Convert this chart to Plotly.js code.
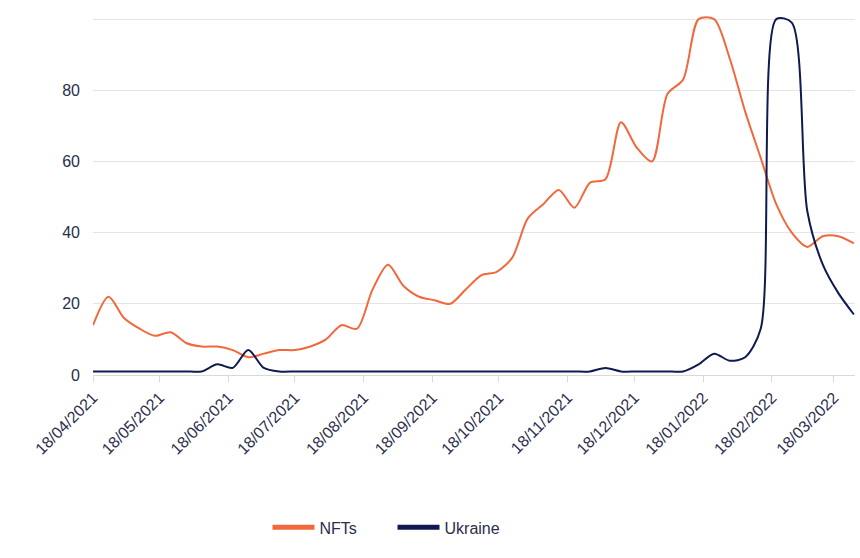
<!DOCTYPE html>
<html>
<head>
<meta charset="utf-8">
<script src="https://cdn.plot.ly/plotly-3.0.1.min.js"></script>
<style>
  html, body { margin: 0; padding: 0; background: #fff; }
  #myDiv { width: 860px; height: 558px; }
</style>
</head>
<body>
<div id="myDiv"></div>
<script>
// weekly search interest, 0-100
var weeks = [
  "2021-04-18","2021-04-25","2021-05-02","2021-05-09","2021-05-16","2021-05-23","2021-05-30",
  "2021-06-06","2021-06-13","2021-06-20","2021-06-27","2021-07-04","2021-07-11","2021-07-18",
  "2021-07-25","2021-08-01","2021-08-08","2021-08-15","2021-08-22","2021-08-29","2021-09-05",
  "2021-09-12","2021-09-19","2021-09-26","2021-10-03","2021-10-10","2021-10-17","2021-10-24",
  "2021-10-31","2021-11-07","2021-11-14","2021-11-21","2021-11-28","2021-12-05","2021-12-12",
  "2021-12-19","2021-12-26","2022-01-02","2022-01-09","2022-01-16","2022-01-23","2022-01-30",
  "2022-02-06","2022-02-13","2022-02-20","2022-02-27","2022-03-06","2022-03-13","2022-03-20",
  "2022-03-27"
];

var nfts = [14, 22, 16, 13, 11, 12, 9, 8, 8, 7,
            5, 6, 7, 7, 8, 10, 14, 13, 24, 31,
            25, 22, 21, 20, 24, 28, 29, 33, 44, 48,
            52, 47, 54, 55, 71, 64, 60, 79, 83, 100,
            100, 89, 74, 61, 48, 40, 36, 39, 39, 37];

var ukraine = [1, 1, 1, 1, 1, 1, 1, 1, 3, 2,
               7, 2, 1, 1, 1, 1, 1, 1, 1, 1,
               1, 1, 1, 1, 1, 1, 1, 1, 1, 1,
               1, 1, 1, 2, 1, 1, 1, 1, 1, 3,
               6, 4, 5, 13, 100, 99, 46, 31, 23, 17];

var tickDates = ["2021-04-18","2021-05-18","2021-06-18","2021-07-18","2021-08-18","2021-09-18",
                 "2021-10-18","2021-11-18","2021-12-18","2022-01-18","2022-02-18","2022-03-18"];

var yTicks = [0, 20, 40, 60, 80, 100];
var yLabels = ["0", "20", "40", "60", "80", ""];

var orange = '#f2683c';
var navy = '#0e1a50';
var textCol = '#2b2d4c';

var trace1 = {
  x: weeks, y: nfts, name: 'NFTs', type: 'scatter', mode: 'lines',
  line: {color: orange, width: 2, shape: 'spline', smoothing: 0.8},
  showlegend: false
};
var trace2 = {
  x: weeks, y: ukraine, name: 'Ukraine', type: 'scatter', mode: 'lines',
  line: {color: navy, width: 2, shape: 'spline', smoothing: 0.8},
  showlegend: false
};
// legend entries drawn with thicker swatches
var leg1 = {x: [null], y: [null], name: 'NFTs', mode: 'lines', line: {color: orange, width: 5}};
var leg2 = {x: [null], y: [null], name: 'Ukraine', mode: 'lines', line: {color: navy, width: 5}};

var layout = {
  width: 860, height: 558,
  margin: {l: 93, r: 5, t: 12, b: 183},
  paper_bgcolor: '#fff', plot_bgcolor: '#fff',
  font: {family: 'Liberation Sans, Arial, sans-serif', color: textCol},
  xaxis: {
    type: 'date',
    range: ['2021-04-18', '2022-03-27 12:00'],
    tickvals: tickDates,
    tickformat: '%d/%m/%Y',
    tickangle: -45,
    tickfont: {size: 16, color: textCol},
    ticks: 'outside', ticklen: 6, tickcolor: '#d9d9d9', tickwidth: 1,
    showgrid: false,
    showline: true, linecolor: '#d9d9d9', linewidth: 1,
    zeroline: false
  },
  yaxis: {
    range: [0, 102],
    tickvals: yTicks,
    ticktext: yLabels,
    tickfont: {size: 16, color: textCol},
    ticklabelstandoff: 12,
    gridcolor: '#e4e4e8', gridwidth: 1,
    zeroline: false, showline: false
  },
  legend: {
    orientation: 'h',
    x: 0.229, xanchor: 'left',
    y: -0.42, yanchor: 'middle',
    font: {size: 16, color: textCol},
    itemwidth: 42,
    entrywidth: 68, entrywidthmode: 'pixels',
    bgcolor: 'rgba(255,255,255,0)'
  }
};

Plotly.newPlot('myDiv', [trace1, trace2, leg1, leg2], layout, {displayModeBar: false, staticPlot: true});
</script>
</body>
</html>
